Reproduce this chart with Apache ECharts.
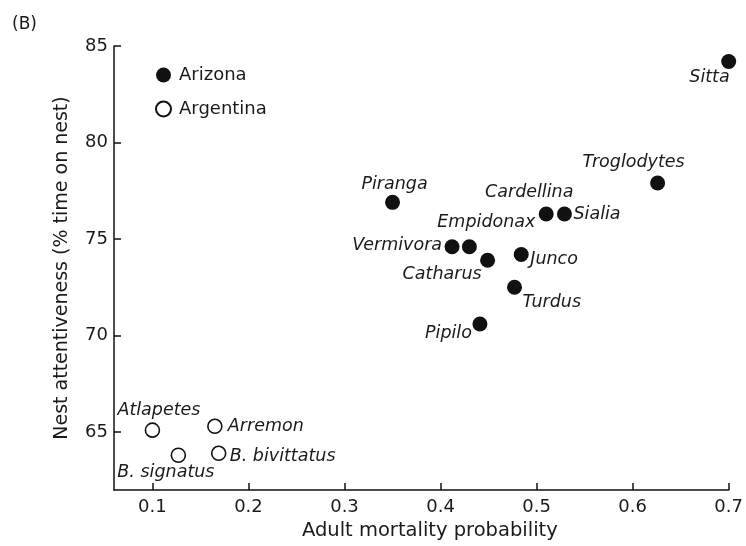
<!DOCTYPE html>
<html><head><meta charset="utf-8">
<script src="https://cdn.jsdelivr.net/npm/echarts@6/dist/echarts.min.js"></script>
<style>html,body{margin:0;padding:0;background:#fff}#c{width:746px;height:546px}</style>
</head><body><div id="c"></div>
<script>
// ---- data ----
const arizonaNames = ['Sitta','Troglodytes','Piranga','Cardellina','Sialia','Empidonax','Vermivora','Junco','Catharus','Turdus','Pipilo'];
const arizonaX = [0.700, 0.626, 0.350, 0.510, 0.529, 0.430, 0.412, 0.484, 0.449, 0.477, 0.441];
const arizonaY = [84.2, 77.9, 76.9, 76.3, 76.3, 74.6, 74.6, 74.2, 73.9, 72.5, 70.6];
const argentinaNames = ['Atlapetes','Arremon','B. signatus','B. bivittatus'];
const argentinaX = [0.100, 0.165, 0.127, 0.169];
const argentinaY = [65.1, 65.3, 63.8, 63.9];
const seriesNames = ['Arizona','Argentina'];
const xAxisTitle = 'Adult mortality probability';
const yAxisTitle = 'Nest attentiveness (% time on nest)';
const panelLabel = '(B)';

// ---- label placement (style) : [align, dx, dy] relative to point centre ----
const labelPlace = {
  'Sitta':['right',1,16], 'Troglodytes':['center',-24,-21], 'Piranga':['center',2,-18],
  'Cardellina':['center',-17,-21], 'Sialia':['left',9,1], 'Empidonax':['right',66,-24],
  'Vermivora':['right',-10,-1], 'Junco':['left',9,5], 'Catharus':['right',-6,14],
  'Turdus':['left',8,15], 'Pipilo':['right',-8,9],
  'Atlapetes':['left',-35,-20], 'Arremon':['left',13,0], 'B. signatus':['left',-61,17],
  'B. bivittatus':['left',11,3]
};
const ink = '#111';
const txt = '#1a1a1a';
const FONT = 'DejaVu Sans';
function mk(names, xs, ys){
  return xs.map((x,i)=>{
    const p = labelPlace[names[i]];
    return {name:names[i], value:[x, ys[i]],
      label:{show:true, formatter:names[i], position:'inside', align:p[0], verticalAlign:'middle', offset:[p[1],p[2]]}};
  });
}
const labelStyle = {fontFamily:FONT, fontStyle:'italic', fontSize:17.5, color:txt};
const chart = echarts.init(document.getElementById('c'), null, {renderer:'canvas'});
chart.setOption({
  backgroundColor:'#fff',
  animation:false,
  title:{text:panelLabel, left:7, top:11, textStyle:{fontFamily:FONT, fontWeight:'normal', fontSize:17, color:txt}},
  grid:{left:114, right:15, top:46, bottom:54},
  legend:{orient:'vertical', left:150, top:61, itemWidth:15, itemHeight:15, itemGap:16,
    data:seriesNames, icon:'circle',
    textStyle:{fontFamily:FONT, fontSize:18, color:txt, padding:[0,0,0,3]}},
  xAxis:{type:'value', min:0.06, max:0.7, splitNumber:6,
    name:xAxisTitle, nameLocation:'middle', nameGap:31,
    nameTextStyle:{fontFamily:FONT, fontSize:19.5, color:txt, padding:[0,0,0,17]},
    axisLine:{onZero:false, lineStyle:{color:ink, width:1.5}},
    axisTick:{inside:true, length:7, lineStyle:{color:ink, width:1.5}},
    axisLabel:{showMinLabel:false, margin:8, fontFamily:FONT, fontSize:18, color:txt},
    splitLine:{show:false}},
  yAxis:{type:'value', min:62, max:85, splitNumber:5,
    name:yAxisTitle, nameLocation:'middle', nameGap:42, nameRotate:90,
    nameTextStyle:{fontFamily:FONT, fontSize:19, color:txt},
    axisLine:{show:true, onZero:false, lineStyle:{color:ink, width:1.5}},
    axisTick:{show:true, inside:true, length:7, lineStyle:{color:ink, width:1.5}},
    axisLabel:{showMinLabel:false, margin:6, fontFamily:FONT, fontSize:18, color:txt},
    splitLine:{show:false}},
  series:[
    {name:seriesNames[0], type:'scatter', symbol:'circle', symbolSize:15,
     itemStyle:{color:ink, opacity:1}, label:labelStyle,
     data:mk(arizonaNames, arizonaX, arizonaY)},
    {name:seriesNames[1], type:'scatter', symbol:'circle', symbolSize:14,
     itemStyle:{color:'#fff', borderColor:ink, borderWidth:1.6, opacity:1}, label:labelStyle,
     data:mk(argentinaNames, argentinaX, argentinaY)}
  ]
});
</script></body></html>
